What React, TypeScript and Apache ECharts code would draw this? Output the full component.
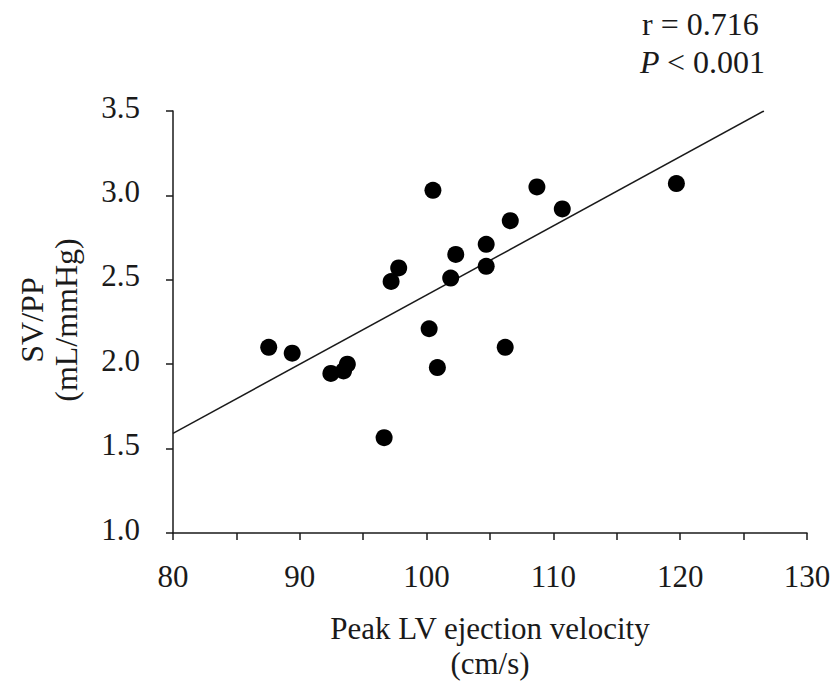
import React, { useEffect, useRef } from "react";
import * as echarts from "echarts";

const velocity = [87.55, 89.4, 92.45, 93.45, 93.75, 96.65, 97.2, 97.8, 100.2, 100.5, 100.85, 101.9, 102.3, 104.7, 104.7, 106.2, 106.6, 108.7, 110.7, 119.7];
const svpp = [2.10, 2.065, 1.945, 1.96, 2.00, 1.565, 2.49, 2.57, 2.21, 3.03, 1.98, 2.51, 2.65, 2.71, 2.58, 2.10, 2.85, 3.05, 2.92, 3.07];
const fitX = [80, 126.6];
const fitY = [1.59, 3.5];
const xTitle = ["Peak LV ejection velocity", "(cm/s)"];
const yTitle = ["SV/PP", "(mL/mmHg)"];
const statR = "r = 0.716";
const statP = "< 0.001";

const FONT = "'Liberation Serif', 'Times New Roman', serif";
const INK = "#1a1a1a";

export default function App() {
  const ref = useRef<HTMLDivElement>(null);
  useEffect(() => {
    document.body.style.margin = "0";
    document.body.style.overflow = "hidden";
    if (!ref.current) return;
    const chart = echarts.init(ref.current, undefined, { renderer: "svg" });
    const points = velocity.map((v, i) => [v, svpp[i]]);
    const fit = fitX.map((v, i) => [v, fitY[i]]);
    chart.setOption({
      animation: false,
      backgroundColor: "#fff",
      grid: { left: 173, right: 27, top: 111, bottom: 155 },
      xAxis: {
        type: "value",
        min: 80,
        max: 130,
        interval: 10,
        axisLine: { show: true, lineStyle: { color: INK, width: 1.5 } },
        axisTick: { show: true, inside: false, length: 7, lineStyle: { color: INK, width: 1.5 } },
        minorTick: { show: true, splitNumber: 2, length: 7, lineStyle: { color: INK, width: 1.5 } },
        splitLine: { show: false },
        axisLabel: { fontFamily: FONT, fontSize: 31, color: INK, margin: 28 },
      },
      yAxis: {
        type: "value",
        min: 1,
        max: 3.5,
        interval: 0.5,
        axisLine: { show: true, lineStyle: { color: INK, width: 1.5 } },
        axisTick: { show: true, inside: false, length: 7, lineStyle: { color: INK, width: 1.5 } },
        splitLine: { show: false },
        axisLabel: {
          fontFamily: FONT,
          fontSize: 31,
          color: INK,
          margin: 33,
          verticalAlign: "bottom",
          lineHeight: 8,
          formatter: (v: number) => v.toFixed(1),
        },
      },
      graphic: [
        {
          type: "text",
          x: 490,
          y: 628,
          style: { text: xTitle[0], font: `31px ${FONT}`, fill: INK, textAlign: "center", textVerticalAlign: "middle" },
        },
        {
          type: "text",
          x: 490,
          y: 663,
          style: { text: xTitle[1], font: `31px ${FONT}`, fill: INK, textAlign: "center", textVerticalAlign: "middle" },
        },
        {
          type: "text",
          x: 32,
          y: 320,
          rotation: Math.PI / 2,
          style: { text: yTitle[0], font: `32px ${FONT}`, fill: INK, textAlign: "center", textVerticalAlign: "middle" },
        },
        {
          type: "text",
          x: 66,
          y: 320,
          rotation: Math.PI / 2,
          style: { text: yTitle[1], font: `32px ${FONT}`, fill: INK, textAlign: "center", textVerticalAlign: "middle" },
        },
        {
          type: "text",
          x: 642,
          y: 24,
          style: { text: statR, font: `32px ${FONT}`, fill: INK, textAlign: "left", textVerticalAlign: "middle" },
        },
        {
          type: "text",
          x: 640,
          y: 62,
          style: { text: "P", font: `italic 32px ${FONT}`, fill: INK, textAlign: "left", textVerticalAlign: "middle" },
        },
        {
          type: "text",
          x: 667,
          y: 62,
          style: { text: statP, font: `32px ${FONT}`, fill: INK, textAlign: "left", textVerticalAlign: "middle" },
        },
      ],
      series: [
        {
          type: "line",
          data: fit,
          symbol: "none",
          lineStyle: { color: INK, width: 1.5 },
          silent: true,
          z: 1,
        },
        {
          type: "scatter",
          data: points,
          symbol: "circle",
          symbolSize: 17,
          itemStyle: { color: "#000", opacity: 1 },
          z: 2,
        },
      ],
    });
    return () => chart.dispose();
  }, []);
  return <div ref={ref} style={{ width: 834, height: 688 }} />;
}
